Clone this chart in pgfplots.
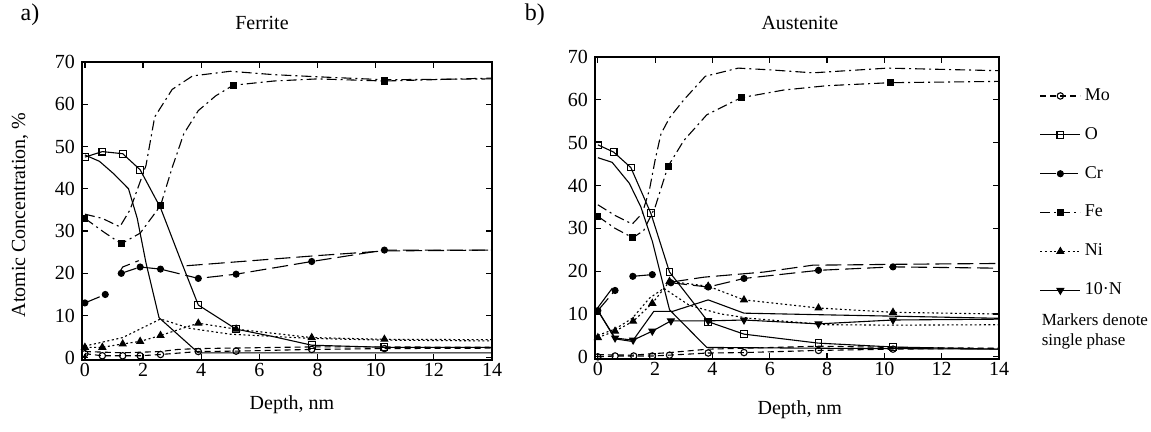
\documentclass[border=0pt]{standalone}
\usepackage{fontspec}
\setmainfont{Liberation Serif}
\usepackage{pgfplots}
\pgfplotsset{compat=1.18}
\pgfplotsset{
  base/.style={black, line width=0.55pt, mark options={solid}},
  mo/.style={base, dash pattern=on 3pt off 2pt},
  mom/.style={mo, mark=o, mark size=1.6pt, mark options={solid, fill=white}},
  ox/.style={base},
  oxm/.style={ox, mark=square, mark size=1.7pt, mark options={solid, fill=white}},
  cr/.style={base, dash pattern=on 8pt off 3pt},
  crm/.style={cr, mark=*, mark size=1.5pt},
  fe/.style={base, dash pattern=on 5pt off 2pt on 1pt off 2pt},
  fem/.style={fe, mark=square*, mark size=1.5pt},
  ni/.style={base, dash pattern=on 1pt off 1.3pt},
  nim/.style={ni, mark=triangle*, mark size=1.9pt},
  nn/.style={base},
  nnm/.style={nn, mark=triangle*, mark size=1.9pt, mark options={solid, rotate=180}},
  panel/.style={
    anchor=south west, scale only axis, clip mode=individual,
    xmin=-0.1, xmax=14, ymin=-0.5, ymax=70,
    xtick={0,2,...,14}, ytick={0,10,...,70},
    tick align=inside, major tick length=3pt,
    axis line style={line width=0.7pt},
    every tick/.style={black, line width=0.6pt},
    /pgf/number format/assume math mode=true,
    tick label style={font=\fontsize{10}{12}\selectfont},
    xticklabel style={yshift=2pt},
    label style={font=\fontsize{10}{12}\selectfont},
    title style={font=\fontsize{10}{12}\selectfont, anchor=center},
    unbounded coords=jump,
  },
}
\begin{document}
\begin{tikzpicture}
\useasboundingbox (0pt,0pt) rectangle (575.5pt,216pt);
% ---------------- panel a: Ferrite ----------------
\begin{axis}[panel,
  at={(41pt,36pt)}, width=205pt, height=149pt,
  title=Ferrite, title style={at={(axis description cs:0.439,1.09)}},
  xlabel={Depth, nm}, xlabel style={at={(axis description cs:0.512,-0.151)}, anchor=center},
  ylabel={Atomic Concentration, \%}, ylabel style={at={(axis description cs:-0.151,0.487)}, anchor=center},
]
% Mo
\addplot[mom, mark indices={1,...,9}] coordinates {(0,1.0) (0.6,0.5) (1.3,0.5) (1.9,0.5) (2.6,0.8) (3.9,1.5) (5.2,1.6) (7.8,2.0) (10.3,2.2) (14,2.3)};
\addplot[mo] coordinates {(0,1.5) (1.3,1.2) (2.6,1.5) (3.2,2.0) (3.9,2.2) (7.8,2.6) (10.3,2.6) (14,2.5)};
% O
\addplot[oxm, mark indices={1,2,3,4,7,8,10,11}] coordinates {(0,47.5) (0.6,48.8) (1.3,48.3) (1.9,44.5) (2.6,35.5) (3.3,23) (3.9,12.5) (5.2,6.8) (6.5,5) (7.8,3) (10.3,2.5) (14,2.5)};
\addplot[ox] coordinates {(0,48) (0.5,46.5) (1.0,43.5) (1.5,40) (1.8,33) (2.1,22.5) (2.55,9.5) (3.9,1.2) (8,1.2) (14,1.2)};
% Cr
\addplot[crm] coordinates {(0,13) (0.7,15)};
\addplot[crm, mark indices={1,...,7}] coordinates {(1.25,20) (1.9,21.5) (2.6,21) (3.9,18.8) (5.2,19.8) (7.8,22.8) (10.3,25.5) (14,25.5)};
\addplot[cr] coordinates {(1.15,19.8) (1.3,21.5) (1.85,23) (1.85,nan) (3.5,21.8) (5,22.6) (6.5,23.4) (8,24.2) (10.3,25.3) (14,25.5)};
% Fe
\addplot[fem, mark indices={1,3,5,10,13}] coordinates {(0,33) (0.6,30) (1.25,27) (1.9,29.5) (2.6,36) (3.0,45) (3.4,53) (3.9,58.5) (4.5,62) (5.1,64.5) (6.5,65.5) (8,66) (10.3,65.5) (14,66.2)};
\addplot[fe] coordinates {(0,34) (0.6,33) (1.2,31) (1.55,35) (2.1,45.5) (2.4,57) (3.0,63.5) (3.7,66.7) (5,67.8) (6.5,67) (8,66.5) (10.3,65.8) (14,66)};
% Ni
\addplot[nim, mark indices={1,...,9}] coordinates {(0,2.5) (0.6,2.5) (1.3,3.3) (1.9,3.9) (2.6,5.3) (3.9,8.2) (5.2,6.8) (7.8,4.8) (10.3,4.4) (14,4.3)};
\addplot[ni] coordinates {(0,2.8) (1.3,4.8) (2.6,9.2) (3.6,7) (5,5.6) (7.8,4.6) (10.3,4.2) (14,4)};
\node[font=\fontsize{12}{14}\selectfont] at (axis description cs:-0.127,1.158) {a)};
\end{axis}
% ---------------- panel b: Austenite ----------------
\begin{axis}[panel,
  at={(297.5pt,36.5pt)}, width=202pt, height=151pt,
  title=Austenite, title style={at={(axis description cs:0.507,1.073)}},
  xlabel={Depth, nm}, xlabel style={at={(axis description cs:0.507,-0.169)}, anchor=center},
  legend style={at={(axis description cs:1.1,0.91)}, anchor=north west, draw=none, fill=none,
    font=\fontsize{9}{11}\selectfont, row sep=8pt, inner sep=0pt},
  legend cell align=left,
  legend image code/.code={\draw[#1, mark indices={2}] plot coordinates {(0pt,0pt) (10pt,0pt) (20pt,0pt)};},
]
% Mo
\addplot[mom, mark indices={1,...,9}] coordinates {(0,0) (0.6,0.2) (1.25,0.2) (1.9,0.2) (2.5,0.4) (3.85,0.9) (5.1,1.0) (7.7,1.5) (10.3,1.8) (14,2.0)};
\addlegendentry{Mo}
\addplot[mo, forget plot] coordinates {(0,0.5) (1.2,0.4) (2.5,1.0) (3.85,1.8) (5.1,2.0) (7.7,2.5) (10.3,2.2) (14,2.0)};
% O
\addplot[oxm, mark indices={1,...,9}] coordinates {(0,49.5) (0.55,47.8) (1.15,44.2) (1.85,33.5) (2.5,19.8) (3.85,8.2) (5.1,5.3) (7.7,3.2) (10.3,2.3) (14,1.8)};
\addlegendentry{O}
\addplot[ox, forget plot] coordinates {(0,46.5) (0.5,45.4) (1.1,40.5) (1.5,35) (1.9,27) (2.2,19) (2.5,11) (3.8,2.2) (8,2) (14,1.8)};
% Cr
\addplot[crm] coordinates {(0,10.8) (0.6,15.5)};
\addlegendentry{Cr}
\addplot[crm, forget plot] coordinates {(1.22,18.8) (1.9,19.2)};
\addplot[crm, forget plot, mark indices={1,...,5}] coordinates {(2.55,17.3) (3.85,16.3) (5.1,18.3) (7.7,20.2) (10.3,21) (14,20.7)};
\addplot[base, forget plot] coordinates {(0,11.5) (0.5,16)};
\addplot[cr, forget plot] coordinates {(2.6,17.5) (3.7,18.6) (5.8,19.8) (7.5,21.4) (9.1,21.5) (10.3,21.6) (14,21.8)};
% Fe
\addplot[fem, mark indices={1,3,6,9,12}] coordinates {(0,32.8) (0.6,30) (1.22,27.8) (1.6,29.5) (2.0,35) (2.45,44.5) (3.0,50.5) (3.8,56.5) (5.0,60.5) (6.5,62.3) (8,63.3) (10.2,64) (14,64.3)};
\addlegendentry{Fe}
\addplot[fe, forget plot] coordinates {(0,35.5) (0.6,33) (1.2,31) (1.55,33.5) (1.8,39) (2.0,46) (2.2,52) (2.5,55.8) (3.0,60) (3.75,65.5) (4.9,67.4) (6,67) (7.5,66.3) (10.1,67.4) (14,66.8)};
% Ni
\addplot[nim, mark indices={1,...,9}] coordinates {(0,4.5) (0.6,6) (1.23,8.3) (1.9,12.5) (2.5,17.6) (3.85,16.5) (5.1,13.3) (7.7,11.4) (10.3,10.4) (14,10)};
\addlegendentry{Ni}
\addplot[ni, forget plot] coordinates {(0,5) (0.6,6.5) (1.2,9) (1.8,13.7) (2.3,16) (3.2,12) (4.3,10) (5.3,9) (8,7.5) (10.3,7.4) (14,7.5)};
% 10 N
\addplot[nnm, mark indices={2,...,9}] coordinates {(0,10.8) (0.6,4.4) (1.23,3.9) (1.9,6) (2.55,8.4) (3.85,8.4) (5.1,8.6) (7.7,7.7) (10.3,8.6) (14,8.8)};
\addlegendentry{10·N}
\addplot[nn, forget plot] coordinates {(0,10.8) (0.6,4.2) (1.2,3.6) (1.95,10.6) (2.6,10.6) (3.85,13.3) (5.1,10.2) (8,9.8) (10.3,9.5) (14,9.0)};
\node[font=\fontsize{12}{14}\selectfont] at (axis description cs:-0.149,1.139) {b)};
\node[font=\fontsize{8.5}{10}\selectfont, align=left, anchor=west, inner sep=0pt] at (axis description cs:1.105,0.09) {Markers denote\\single phase};
\end{axis}
\end{tikzpicture}
\end{document}
